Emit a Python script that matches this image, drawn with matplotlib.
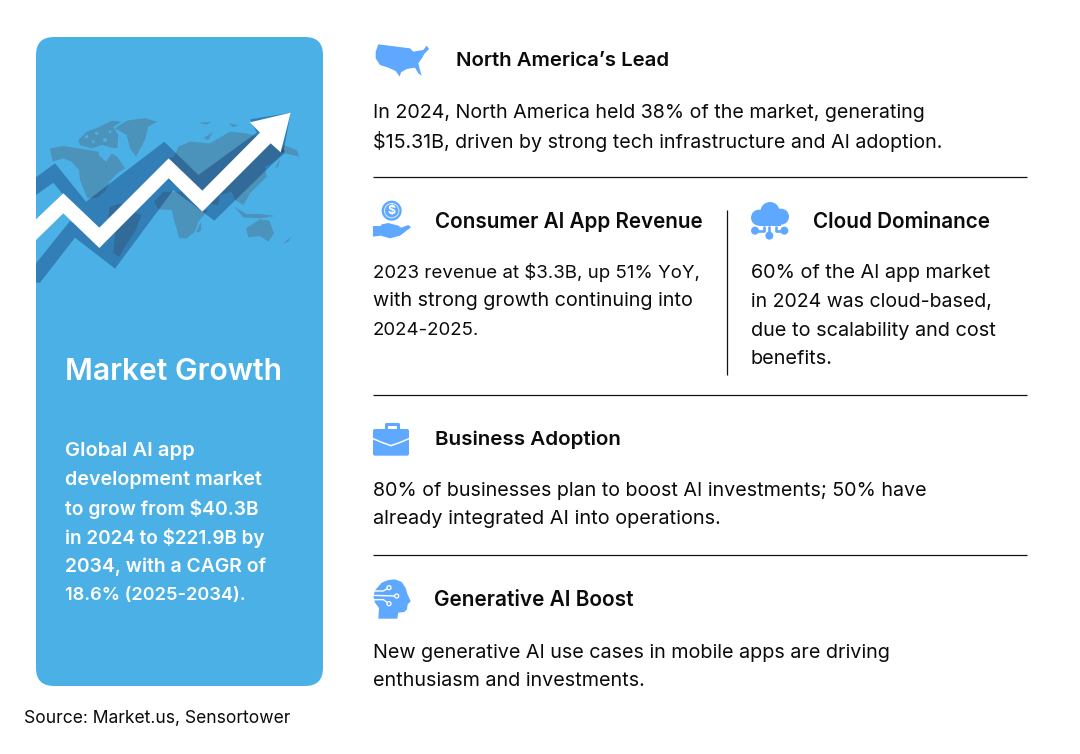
import matplotlib
matplotlib.use("Agg")
import matplotlib.pyplot as plt
from matplotlib.patches import FancyBboxPatch, Polygon, Circle, Rectangle
import numpy as np

plt.rcParams['font.family'] = ['Inter', 'DejaVu Sans']

PANEL_TITLE = "Market Growth"
PANEL_BODY = ["Global AI app", "development market", "to grow from $40.3B", "in 2024 to $221.9B by",
              "2034, with a CAGR of", "18.6% (2025-2034)."]
PANEL_ENDS = [195, 262, 259, 265, 266, 246]
SOURCE = "Source: Market.us, Sensortower"
HEADINGS = [("North America’s Lead", 456, 60, 669), ("Consumer AI App Revenue", 435, 221, 703),
            ("Cloud Dominance", 813, 221, 990), ("Business Adoption", 435, 439, 621), ("Generative AI Boost", 434, 599, 633)]
BODIES = [(["In 2024, North America held 38% of the market, generating",
            "$15.31B, driven by strong tech infrastructure and AI adoption."], 373, 111, [925, 943]),
          (["2023 revenue at $3.3B, up 51% YoY,", "with strong growth continuing into", "2024-2025."], 373, 271,
           [699, 693, 479]),
          (["60% of the AI app market", "in 2024 was cloud-based,", "due to scalability and cost", "benefits."], 751, 271,
           [990, 991, 996, 833]),
          (["80% of businesses plan to boost AI investments; 50% have",
            "already integrated AI into operations."], 373, 489, [927, 721]),
          (["New generative AI use cases in mobile apps are driving",
            "enthusiasm and investments."], 373, 651, [891, 645])]
BLUE = "#4bb0e6"
ICON = "#5fa8ff"
MAP = "#4b93bb"
INK = "#0b0b0b"

fig = plt.figure(figsize=(10.8, 7.54), dpi=100, facecolor="white")
ax = fig.add_axes([0, 0, 1, 1])
ax.set_xlim(0, 1080)
ax.set_ylim(754, 0)
ax.axis("off")
renderer = fig.canvas.get_renderer()


def fitted(x, y, s, end, **kw):
    t = ax.text(x, y, s, va="center", ha="left", **kw)
    w = t.get_window_extent(renderer).width
    t.set_fontsize(t.get_fontsize() * (end - x) / w)
    return t


def z(pts, ox, oy):
    return [(x / 3 + ox, y / 3 + oy) for x, y in pts]


def poly(pts, ox, oy, color, zo=3, alpha=None):
    ax.add_patch(Polygon(z(pts, ox, oy), closed=True, fc=color, ec="none", zorder=zo, alpha=alpha))


def circ(x, y, r, ox, oy, color, zo=4):
    ax.add_patch(Circle((x / 3 + ox, y / 3 + oy), r / 3, fc=color, ec="none", zorder=zo))


def seg(pts, ox, oy, color, lw, zo=4):
    p = np.array(z(pts, ox, oy))
    ax.plot(p[:, 0], p[:, 1], color=color, lw=lw, zorder=zo, solid_capstyle="round", solid_joinstyle="round")


# Panel
ax.add_patch(FancyBboxPatch((54, 55), 251, 613, boxstyle="round,pad=18,rounding_size=18", fc=BLUE, ec="none", zorder=1,
                            mutation_scale=1))

# World map (zoom coordinates with origin 30,90)
O = (30, 90)
continents = [
    [(60, 175), (100, 168), (145, 175), (205, 185), (208, 197), (228, 215), (245, 190), (262, 200), (285, 235), (262, 250),
     (238, 275), (228, 300), (205, 322), (172, 325), (150, 270), (147, 240), (125, 215), (100, 205), (68, 215)],
    [(145, 150), (170, 125), (205, 112), (245, 92), (275, 95), (250, 110), (265, 135), (262, 175), (240, 172), (215, 165),
     (185, 175), (150, 165)],
    [(255, 115), (290, 92), (345, 84), (382, 95), (355, 110), (345, 150), (318, 200), (300, 175), (290, 135)],
    [(238, 352), (270, 340), (300, 360), (335, 375), (315, 425), (285, 470), (268, 500), (250, 490), (255, 430), (235, 380)],
    [(372, 335), (400, 305), (455, 305), (480, 335), (515, 360), (535, 360), (505, 395), (495, 425), (470, 445), (448, 445),
     (432, 390), (425, 360), (385, 358)],
    [(432, 200), (445, 170), (480, 155), (540, 160), (600, 125), (650, 130), (720, 150), (800, 180), (808, 200), (765, 190),
     (735, 215), (705, 230), (710, 260), (680, 290), (660, 310), (640, 345), (615, 330), (605, 305), (570, 315), (565, 345),
     (520, 340), (490, 295), (455, 295), (420, 275), (395, 235), (415, 205)],
    [(648, 415), (690, 388), (718, 392), (732, 430), (715, 455), (690, 438), (655, 442)],
    [(500, 425), (512, 395), (514, 420), (504, 428)],
    [(758, 462), (785, 438), (775, 455)],
    [(612, 350), (650, 372), (690, 372), (735, 378), (690, 385), (640, 382)],
    [(735, 235), (750, 205), (745, 230)],
    [(505, 98), (545, 96), (530, 104)],
    [(520, 145), (550, 125), (535, 150)],
    [(595, 100), (625, 105), (610, 112)],
]
for c in continents:
    poly(c, *O, MAP, zo=2)
for (cx, cy, r) in [(170, 140, 5), (200, 130, 5), (225, 150, 6), (190, 155, 4), (240, 125, 4)]:
    circ(cx, cy, r, *O, BLUE, zo=2.1)

# Shadows and arrow
SHADOW = (0, 23 / 255, 83 / 255)
band1 = [(18, 262), (75, 220), (168, 335), (403, 155), (505, 255), (680, 128), (660, 88), (782, 68), (760, 190),
         (722, 140), (517, 333), (416, 235), (208, 443), (165, 395), (70, 278), (18, 315)]
band2 = [(18, 520), (120, 393), (208, 443), (416, 235), (517, 333), (722, 130), (765, 185), (553, 392), (430, 300),
         (255, 536), (135, 443), (30, 578), (18, 578)]
poly(band1, *O, SHADOW, zo=3, alpha=0.32)
poly(band2, *O, SHADOW, zo=3, alpha=0.32)
arrow = [(18, 388), (100, 310), (208, 413), (416, 205), (517, 302), (690, 128), (660, 97), (782, 68), (752, 187),
         (722, 160), (517, 365), (416, 265), (208, 474), (100, 370), (18, 450)]
poly(arrow, *O, "white", zo=4)

# Panel text
ax.text(65, 372.5, PANEL_TITLE, color="white", fontsize=21.7, fontweight="semibold", va="center", ha="left", zorder=5)
for i, (line, end) in enumerate(zip(PANEL_BODY, PANEL_ENDS)):
    fitted(65, 451.5 + i * 28.8, line, end, color="white", fontsize=14.2, fontweight="semibold", zorder=5)
ax.text(24, 718.5, SOURCE, color=INK, fontsize=12.6, va="center", ha="left")

# Rules
for y in (177, 395, 555):
    ax.plot([373, 1027], [y, y], color="#111111", lw=0.9, zorder=2, solid_capstyle="butt")
ax.plot([727, 727], [210, 375], color="#111111", lw=0.9, zorder=2, solid_capstyle="butt")

# Text blocks
for text, x, y, end in HEADINGS:
    fitted(x, y + 1, text, end, color=INK, fontsize=14.8, fontweight="semibold")
for lines, x, y, ends in BODIES:
    for i, (line, end) in enumerate(zip(lines, ends)):
        fitted(x, y + 1.5 + i * 29, line, end, color=INK, fontsize=14.15)

# USA icon
poly([(40, 28), (80, 33), (135, 40), (145, 50), (155, 48), (175, 45), (185, 32), (192, 42), (177, 58), (172, 68), (160, 85),
      (165, 105), (170, 122), (160, 115), (150, 98), (125, 102), (108, 112), (104, 125), (92, 108), (70, 98), (45, 90),
      (32, 70), (32, 50)], 365, 35, ICON)

# Hand and coin icon
O2 = (365, 195)
circ(80, 47, 30, *O2, ICON)
circ(80, 47, 23, *O2, "#dcebff", zo=5)
circ(80, 47, 20, *O2, ICON, zo=6)
ax.text(80 / 3 + 365, 47 / 3 + 195, "$", color="white", fontsize=9, fontweight="bold", ha="center", va="center", zorder=7)
poly([(24, 93), (47, 93), (50, 88), (70, 84), (85, 88), (100, 92), (108, 98), (130, 90), (138, 97), (105, 122), (75, 130),
      (47, 122), (24, 125)], *O2, ICON)

# Cloud icon
O3 = (745, 195)
for x, y, r in [(42, 68, 24), (75, 50, 29), (108, 65, 24)]:
    circ(x, y, r, *O3, ICON)
ax.add_patch(Rectangle((42 / 3 + 745, 60 / 3 + 195), 66 / 3, 32 / 3, fc=ICON, ec="none", zorder=4))
for x, y in [(30, 107), (73, 122), (118, 107)]:
    circ(x, y, 12, *O3, ICON)
seg([(30, 107), (58, 107), (58, 95)], *O3, ICON, 1.9)
seg([(118, 107), (92, 107), (92, 95)], *O3, ICON, 1.9)
seg([(73, 122), (73, 95)], *O3, ICON, 1.9)

# Briefcase icon
O4 = (365, 415)
ax.add_patch(FancyBboxPatch((24 / 3 + 365 + 2, 42 / 3 + 415 + 2), 108 / 3 - 4, 80 / 3 - 4,
                            boxstyle="round,pad=2,rounding_size=2", mutation_scale=1, fc=ICON, ec="none", zorder=4))
seg([(64, 42), (64, 27), (98, 27), (98, 42)], *O4, ICON, 2.2)
seg([(22, 70), (50, 82), (78, 92), (106, 82), (134, 70)], *O4, "white", 1.1, zo=5)

# AI head icon
O5 = (365, 572)
poly([(25, 72), (30, 55), (50, 32), (70, 24), (90, 22), (110, 30), (122, 48), (128, 68), (137, 88), (128, 97), (126, 112),
      (118, 120), (100, 122), (97, 140), (40, 140), (42, 108), (30, 92)], *O5, ICON)
seg([(22, 57), (55, 57), (72, 47)], *O5, "white", 1.0, zo=5)
seg([(22, 70), (92, 72)], *O5, "white", 1.0, zo=5)
seg([(22, 83), (55, 83), (72, 95)], *O5, "white", 1.0, zo=5)
for x, y in [(72, 47), (95, 72), (72, 95)]:
    circ(x, y, 8, *O5, "white", zo=5)
    circ(x, y, 4, *O5, ICON, zo=6)

fig.savefig("out.png", dpi=100, facecolor="white")
